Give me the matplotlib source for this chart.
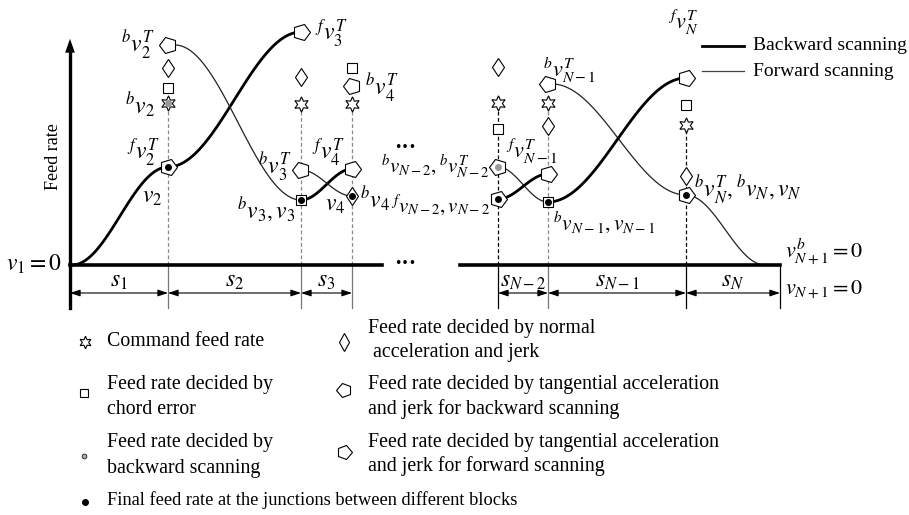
import numpy as np
import matplotlib
matplotlib.use("Agg")
import matplotlib.pyplot as plt
from matplotlib.markers import MarkerStyle
from matplotlib.transforms import Affine2D

plt.rcParams['mathtext.fontset'] = 'stix'
plt.rcParams['font.family'] = ['Liberation Serif', 'DejaVu Serif']

# junction positions along the path (x, in px from left) and feed-rate levels (px above baseline)
junction_x = [168, 301, 352, 498, 548, 686]
end_x = 780
# markers per junction: (kind, feed rate)
col_markers = [
    [("pent_b", 220), ("diamond", 197), ("square", 177), ("star", 162), ("pent_f", 98)],
    [("pent_f", 233), ("diamond", 188), ("star", 161), ("pent_b", 95), ("square", 65)],
    [("square", 197), ("pent_b", 179), ("star", 161), ("pent_f", 96), ("diamond", 69)],
    [("diamond", 198), ("star", 162), ("square", 136), ("pent_b", 98), ("pent_f", 66)],
    [("pent_b", 181), ("star", 162), ("diamond", 139), ("pent_f", 91), ("square", 63)],
    [("pent_f", 187), ("square", 160), ("star", 140), ("diamond", 89), ("pent_f", 70)],
]
# dot inside marker: (column index, feed rate, colour)
dots = [(0, 162, "#999999"), (0, 98, "k"), (1, 65, "k"), (2, 69, "k"),
        (3, 98, "#999999"), (3, 66, "k"), (4, 63, "k"), (5, 70, "k")]
# S-curves: (x0, F0, x1, F1, thick)
curves = [
    (72, 0, 168, 98, True),
    (168, 98, 301, 233, True),
    (175, 220, 301, 65, False),
    (301, 65, 352, 96, True),
    (301, 95, 352, 69, False),
    (498, 98, 548, 63, False),
    (498, 66, 548, 91, True),
    (552, 181, 686, 70, False),
    (548, 63, 686, 187, True),
    (686, 70, 765, 0, False),
]
dashed_top = [162, 161, 161, 162, 162, 140]
seg_labels = [r"$s_1$", r"$s_2$", r"$s_3$", r"$s_{N-2}$", r"$s_{N-1}$", r"$s_N$"]

BASE = 265

fig = plt.figure(figsize=(9.09, 5.15), dpi=100)
ax = fig.add_axes([0, 0, 1, 1])
ax.set_xlim(0, 909)
ax.set_ylim(BASE - 515, BASE)
ax.axis("off")


def py(y):
    # pixel row -> axis coordinate
    return BASE - y


def mk(kind):
    if kind == "pent_b":
        return MarkerStyle("p", transform=Affine2D().rotate_deg(90)), 12.5
    if kind == "pent_f":
        return MarkerStyle("p", transform=Affine2D().rotate_deg(-90)), 12.5
    if kind == "star":
        return MarkerStyle((6, 1, 0)), 11
    if kind == "diamond":
        return MarkerStyle("d"), 9.5
    return MarkerStyle("s"), 6.5


# dashed guide lines
for x, top, in zip(junction_x, dashed_top):
    col = "k" if x in (498, 686) else "#888888"
    ax.plot([x, x], [0, top], ls=(0, (3, 2)), color=col, lw=0.9, zorder=1)

# solid lines below baseline
for x in junction_x + [end_x]:
    ax.plot([x, x], [0, py(308)], color="#777777" if x not in (498, 686, end_x) else "k",
            lw=0.9, zorder=1)

# axes
ax.plot([70, 70], [py(308), py(48)], color="k", lw=2.4, zorder=3)
ax.annotate("", xy=(70, py(36)), xytext=(70, py(52)),
            arrowprops=dict(arrowstyle="-|>,head_width=0.35,head_length=1.0", color="k", lw=0))
ax.plot([70, 382], [0, 0], color="k", lw=2.6, zorder=3)
ax.plot([460, end_x], [0, 0], color="k", lw=2.6, zorder=3)

# curves
t = np.linspace(0, 1, 120)
s = 0.5 - 0.5 * np.cos(np.pi * t)
for x0, f0, x1, f1, thick in curves:
    ax.plot(x0 + (x1 - x0) * t, f0 + (f1 - f0) * s,
            color="k" if thick else "#222222", lw=2.0 if thick else 0.9,
            zorder=2, solid_capstyle="round")

# markers
for x, items in zip(junction_x, col_markers):
    for kind, f in items:
        m, ms = mk(kind)
        ax.plot([x], [f], marker=m, ms=ms, mfc="white", mec="k", mew=0.8, ls="none", zorder=5)
for ci, f, c in dots:
    ax.plot([junction_x[ci]], [f], "o", ms=4, color=c, zorder=6)

# dimension arrows
bounds = [70] + junction_x[:3], [498, 548, 686, end_x]
pairs = list(zip(bounds[0][:-1], bounds[0][1:])) + list(zip(bounds[1][:-1], bounds[1][1:]))
for (a, b), lab in zip(pairs, seg_labels):
    ax.annotate("", xy=(b, py(293)), xytext=(a, py(293)),
                arrowprops=dict(arrowstyle="<|-|>,head_width=0.2,head_length=0.6",
                                color="k", lw=0.8, shrinkA=0, shrinkB=0))
    ax.text((a + b) / 2, py(282), lab, fontsize=17, ha="center", va="center")

# labels
lbl = [
    (155, 45, r"${}^{b}v_2^{T}$", "right", 17),
    (315, 33, r"${}^{f}v_3^{T}$", "left", 17),
    (155, 105, r"${}^{b}v_2$", "right", 17),
    (160, 152, r"${}^{f}v_2^{T}$", "right", 17),
    (162, 198, r"$v_2$", "right", 17),
    (292, 167, r"${}^{b}v_3^{T}$", "right", 17),
    (296, 210, r"${}^{b}v_3, v_3$", "right", 17),
    (345, 152, r"${}^{f}v_4^{T}$", "right", 17),
    (345, 205, r"$v_4$", "right", 17),
    (360, 199, r"${}^{b}v_4$", "left", 17),
    (365, 88, r"${}^{b}v_4^{T}$", "left", 17),
    (490, 167, r"${}^{b}v_{N-2},{}^{b}v_{N-2}^{T}$", "right", 15),
    (490, 205, r"${}^{f}v_{N-2},v_{N-2}$", "right", 15),
    (506, 151, r"${}^{f}v_{N-1}^{T}$", "left", 16),
    (543, 70, r"${}^{b}v_{N-1}^{T}$", "left", 16),
    (553, 222, r"${}^{b}v_{N-1},v_{N-1}$", "left", 15.5),
    (668, 22, r"${}^{f}v_{N}^{T}$", "left", 16),
    (694, 190, r"${}^{b}v_{N}^{T},{}^{b}v_{N},v_{N}$", "left", 17),
    (785, 252, r"$v_{N+1}^{b}=0$", "left", 16),
    (785, 290, r"$v_{N+1}=0$", "left", 16),
    (6, 264, r"$v_1=0$", "left", 17),
]
for x, y, s_, ha, fs in lbl:
    ax.text(x, py(y), s_, fontsize=fs, ha=ha, va="center")

ax.text(405, py(263), "•••", fontsize=9, ha="center", va="center", family="DejaVu Sans")
ax.text(405, py(147), "•••", fontsize=9, ha="center", va="center", family="DejaVu Sans")
ax.text(54, py(157), "Feed rate", fontsize=13, rotation=90, ha="center", va="center")

# top-right legend
ax.plot([702, 744], [py(46), py(46)], color="k", lw=2.0)
ax.plot([702, 744], [py(71), py(71)], color="#444444", lw=0.9)
ax.text(753, py(46), "Backward scanning", fontsize=14, va="center")
ax.text(753, py(71), "Forward scanning", fontsize=14, va="center")

# bottom legend
LF = 14.3
leg_items = [
    (85, 342, "star", [(107, 342, "Command feed rate")]),
    (344, 342, "diamond", [(368, 328, "Feed rate decided by normal"), (368, 353, " acceleration and jerk")]),
    (84, 393, "square", [(107, 385, "Feed rate decided by"), (107, 409, "chord error")]),
    (344, 390, "pent_b", [(368, 384, "Feed rate decided by tangential acceleration"),
                          (368, 409, "and jerk for backward scanning")]),
    (344, 452, "pent_f", [(368, 442, "Feed rate decided by tangential acceleration"),
                          (368, 466, "and jerk for forward scanning")]),
    (84, 456, "dot", [(107, 443, "Feed rate decided by"), (107, 468, "backward scanning")]),
]
for x, y, kind, texts in leg_items:
    if kind == "dot":
        ax.plot([x], [py(y)], "o", ms=3.5, mfc="#aaaaaa", mec="k", mew=0.5)
    else:
        m, ms = mk(kind)
        ms = {"star": 9, "diamond": 9, "square": 6}.get(kind, 11)
        ax.plot([x], [py(y)], marker=m, ms=ms, mfc="white", mec="k", mew=0.8, ls="none")
    for tx, ty, tt in texts:
        ax.text(tx, py(ty), tt, fontsize=LF, va="center")

ax.plot([85], [py(502)], "o", ms=4, color="k")
ax.text(107, py(500), "Final feed rate at the junctions between different blocks", fontsize=13.2, va="center")

fig.savefig("out.png", dpi=100)
